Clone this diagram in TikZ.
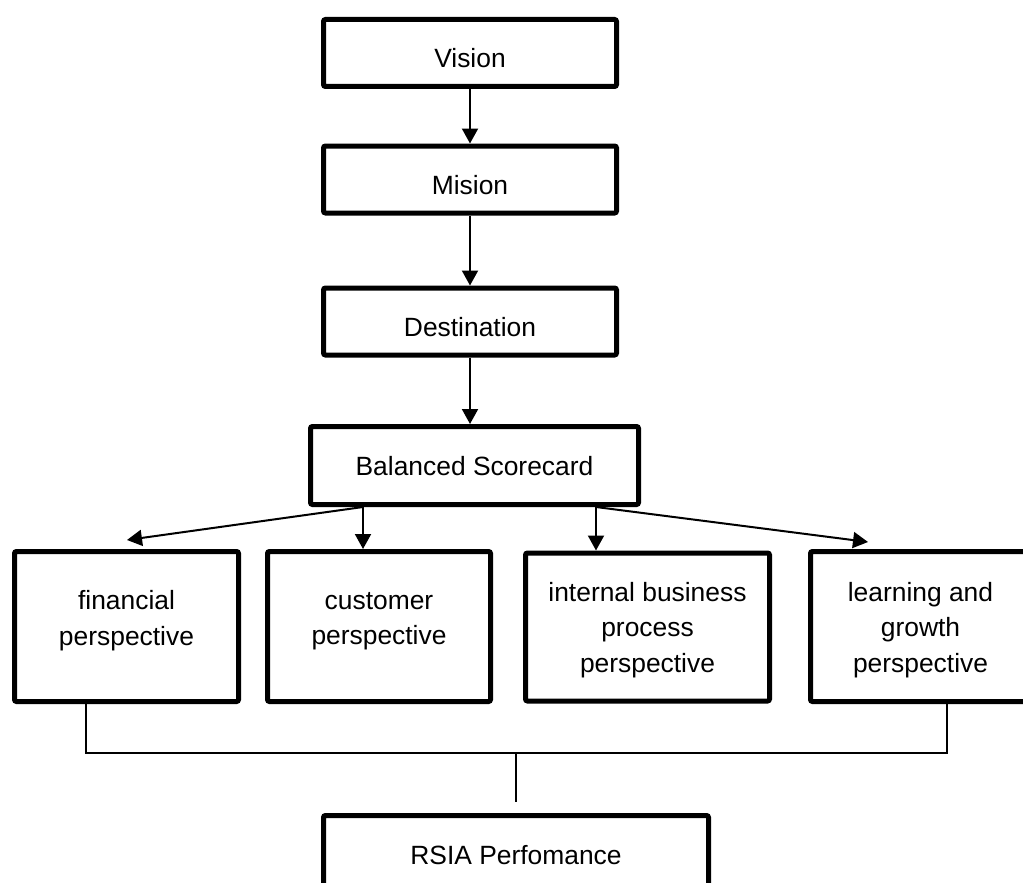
\documentclass[tikz,border=0pt]{standalone}
\usepackage{fontspec}
\setmainfont{Liberation Sans}
\usetikzlibrary{arrows.meta,calc}
\begin{document}
\begin{tikzpicture}[x=1pt,y=-1pt,
  box/.style={draw=black, line width=5pt, rounded corners=2pt, fill=white, inner sep=0pt},
  txt/.style={font=\fontsize{26.4}{35.5}\selectfont, align=center, inner sep=0pt},
  conn/.style={draw=black, line width=2pt},
  arr/.style={conn, -{Triangle[length=15pt,width=16pt]}}]
\useasboundingbox (0,0) rectangle (1023,883);
\fill[white] (0,0) rectangle (1023,883);
% boxes
\node[box, minimum width=293pt, minimum height=67pt] (vis) at (470,53) {};
\node[box, minimum width=293pt, minimum height=67pt] (mis) at (470,179.5) {};
\node[box, minimum width=293pt, minimum height=67pt] (des) at (470,321.5) {};
\node[box, minimum width=328pt, minimum height=78pt] (bsc) at (474.5,465.5) {};
\node[box, minimum width=224pt, minimum height=150pt] (fin) at (126.5,626.5) {};
\node[box, minimum width=223pt, minimum height=150pt] (cus) at (379,626.5) {};
\node[box, minimum width=244pt, minimum height=148pt] (int) at (647.5,627) {};
\node[box, minimum width=220pt, minimum height=150pt] (lea) at (920.5,626.5) {};
\node[box, minimum width=385pt, minimum height=78pt] (rsi) at (516,854.5) {};
% texts
\node[txt] (visT) at (470,58.5) {Vision};
\node[txt] (misT) at (470,185.5) {Mision};
\node[txt] (desT) at (470,327.5) {Destination};
\node[txt] (bscT) at (474.5,466.5) {Balanced Scorecard};
\node[txt] (finT) at (126.5,620.6) {financial\\perspective};
\node[txt] (cusT) at (379,621) {customer\\perspective};
\node[txt] (intT) at (647.5,630) {internal business\\process\\perspective};
\node[txt] (leaT) at (920.5,630) {learning and\\growth\\perspective};
\node[txt] (rsiT) at (516,855.5) {RSIA Perfomance};
% coordinates
\coordinate (s1) at (363,507);
\coordinate (s2) at (596,507);
\coordinate (tf) at (127,540);
\coordinate (tl) at (868,542);
\coordinate (j1) at (86,753);
\coordinate (j2) at (947,753);
\coordinate (jm) at (516,753);
\coordinate (je) at (516,802);
% connectors
\draw[arr] (vis.south) -- (mis.north);
\draw[arr] (mis.south) -- (des.north);
\draw[arr] (des.south) -- (des.south |- bsc.north);
\draw[arr] (s1) -- (tf);
\draw[arr] (s1) -- (s1 |- cus.north);
\draw[arr] (s2) -- (s2 |- int.north);
\draw[arr] (s2) -- (tl);
\draw[conn, line width=1.6pt] (fin.south -| j1) -- (j1) -- (j2) -- (lea.south -| j2);
\draw[conn] (jm) -- (je);
\end{tikzpicture}
\end{document}
